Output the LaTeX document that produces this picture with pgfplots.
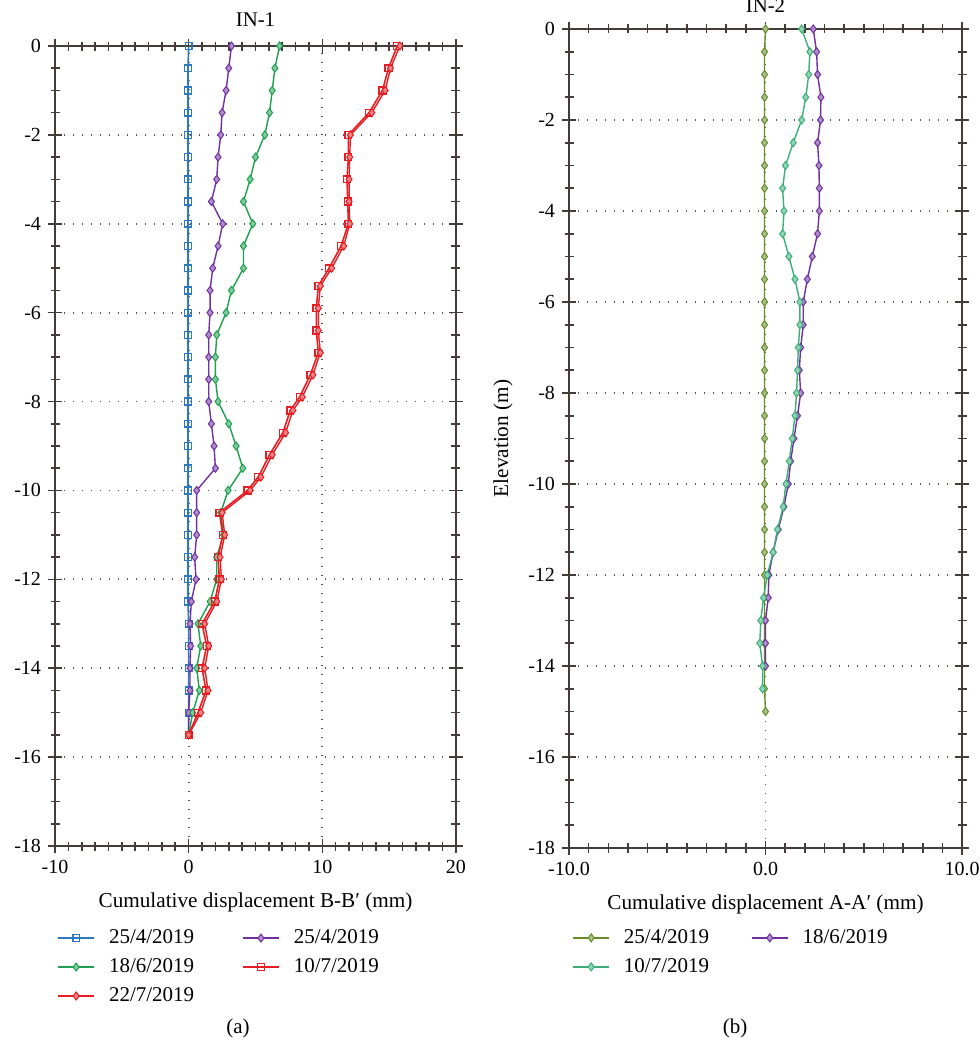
\documentclass[border=0pt]{standalone}
\usepackage{fontspec}
\setmainfont{Liberation Serif}
\usepackage{pgfplots}
\pgfplotsset{compat=1.18}

\definecolor{axisgray}{RGB}{70,60,55}
\definecolor{gridgray}{RGB}{90,80,75}
\definecolor{blueS}{RGB}{45,120,195}
\definecolor{purpleS}{RGB}{112,48,160}
\definecolor{greenS}{RGB}{30,160,80}
\definecolor{redS}{RGB}{230,30,35}
\definecolor{oliveS}{RGB}{100,140,40}
\definecolor{tealS}{RGB}{60,175,120}

\pgfplotsset{
  inclino/.style={
    scale only axis,
    tick align=center,
    axis line style={draw=axisgray, line width=0.9pt},
    major tick length=7pt, minor tick length=4.5pt,
    tick style={draw=axisgray, line width=0.8pt},
    ymin=-18, ymax=0, ytick={-18,-16,...,0}, minor y tick num=3,
    minor x tick num=9,
    grid=major,
    grid style={draw=gridgray, line width=0.9pt, dash pattern=on 0.6pt off 3.9pt},
    tick label style={font=\fontsize{10}{12}\selectfont},
    /pgf/number format/assume math mode=true,
    label style={font=\fontsize{10.6}{12.6}\selectfont},
    title style={font=\fontsize{10.4}{12.4}\selectfont, at={(0.5,1)}, anchor=base},
    xlabel style={at={(axis description cs:0.5,0)}, anchor=center, yshift=-28pt},
    legend cell align=left,
    legend columns=2,
    legend style={draw=none, fill=none, inner sep=0pt,
      font=\fontsize{10.5}{12.6}\selectfont,
      row sep=2pt,
      /tikz/every odd column/.append style={column sep=5pt}},
    legend image code/.code={\draw[mark repeat=2,mark phase=2]
      plot coordinates {(0pt,0pt) (9pt,0pt) (18pt,0pt)};},
  },
  sq/.style={color=#1, line width=0.8pt, mark=square, mark size=1.7pt, mark options={solid, line width=0.7pt}},
  dm/.style={color=#1, line width=0.7pt, mark=diamond*, mark size=2pt, mark options={solid, fill=#1!55!white, line width=0.5pt}},
}

\begin{document}
\begin{tikzpicture}
\useasboundingbox (0,0) rectangle (490pt,523pt);

% ---------- (a) IN-1 ----------
\begin{axis}[inclino,
  name=a,
  at={(27.5pt,100pt)}, anchor=south west,
  width=200.5pt, height=400pt,
  xmin=-10, xmax=20, xtick={-10,0,10,20},
  title={IN-1}, title style={yshift=4pt},
  xlabel={Cumulative displacement B-B′ (mm)},
  legend style={at={(axis description cs:0.005,-0.099)}, anchor=north west,
    /tikz/every even column/.append style={column sep=22pt}},
]
\addplot[sq=blueS] coordinates {
 (0,0) (-0.05,-0.5) (-0.05,-1) (-0.05,-1.5) (-0.05,-2) (-0.05,-2.5) (-0.05,-3) (-0.05,-3.5)
 (-0.05,-4) (-0.05,-4.5) (-0.05,-5) (-0.05,-5.5) (-0.05,-6) (-0.05,-6.5) (-0.05,-7) (-0.05,-7.5)
 (-0.05,-8) (-0.05,-8.5) (-0.05,-9) (-0.05,-9.5) (-0.05,-10) (-0.05,-10.5) (-0.05,-11) (-0.05,-11.5)
 (-0.05,-12) (-0.05,-12.5) (0,-13) (0,-13.5) (0,-14) (0,-14.5) (0,-15) (0,-15.5)};
\addlegendentry{25/4/2019}
\addplot[dm=purpleS] coordinates {
 (3.2,0) (3.0,-0.5) (2.8,-1) (2.5,-1.5) (2.4,-2) (2.2,-2.5) (2.1,-3) (1.7,-3.5)
 (2.55,-4) (2.2,-4.5) (1.8,-5) (1.6,-5.5) (1.6,-6) (1.5,-6.5) (1.5,-7) (1.5,-7.5)
 (1.5,-8) (1.7,-8.5) (1.9,-9) (2.0,-9.5) (0.6,-10) (0.6,-10.5) (0.6,-11) (0.45,-11.5)
 (0.55,-12) (0.2,-12.5) (0.1,-13) (0.15,-13.5) (0.1,-14) (0.1,-14.5) (0,-15) (0,-15.5)};
\addlegendentry{25/4/2019}
\addplot[dm=greenS] coordinates {
 (6.8,0) (6.45,-0.5) (6.25,-1) (6.05,-1.5) (5.7,-2) (5.0,-2.5) (4.6,-3) (4.1,-3.5)
 (4.8,-4) (4.1,-4.5) (4.1,-5) (3.2,-5.5) (2.8,-6) (2.1,-6.5) (2.0,-7) (2.0,-7.5)
 (2.2,-8) (3.0,-8.5) (3.55,-9) (4.05,-9.5) (2.95,-10) (2.4,-10.5) (2.6,-11) (2.1,-11.5)
 (2.1,-12) (1.6,-12.5) (0.7,-13) (0.9,-13.5) (0.6,-14) (0.8,-14.5) (0.3,-15) (0,-15.5)};
\addlegendentry{18/6/2019}
\addplot[sq=redS] coordinates {
 (15.6,0) (14.95,-0.5) (14.5,-1) (13.5,-1.5) (11.95,-2) (11.95,-2.5) (11.85,-3) (11.9,-3.5)
 (11.95,-4) (11.4,-4.5) (10.5,-5) (9.7,-5.4) (9.55,-5.9) (9.55,-6.4) (9.7,-6.9) (9.1,-7.4)
 (8.3,-7.9) (7.6,-8.2) (7.05,-8.7) (6.05,-9.2) (5.2,-9.7) (4.4,-10) (2.3,-10.5) (2.55,-11)
 (2.2,-11.5) (2.3,-12) (1.95,-12.5) (1.0,-13) (1.35,-13.5) (1.0,-14) (1.3,-14.5) (0.7,-15) (0,-15.5)};
\addlegendentry{10/7/2019}
\addplot[dm=redS] coordinates {
 (15.8,0) (15.1,-0.5) (14.7,-1) (13.7,-1.5) (12.1,-2) (12.05,-2.5) (12.0,-3) (12.0,-3.5)
 (12.05,-4) (11.6,-4.5) (10.7,-5) (9.85,-5.4) (9.7,-5.9) (9.7,-6.4) (9.85,-6.9) (9.3,-7.4)
 (8.5,-7.9) (7.8,-8.2) (7.25,-8.7) (6.25,-9.2) (5.4,-9.7) (4.6,-10) (2.5,-10.5) (2.7,-11)
 (2.35,-11.5) (2.45,-12) (2.1,-12.5) (1.2,-13) (1.5,-13.5) (1.2,-14) (1.45,-14.5) (0.9,-15) (0,-15.5)};
\addlegendentry{22/7/2019}
\end{axis}

% ---------- (b) IN-2 ----------
\begin{axis}[inclino,
  name=b,
  at={(284.5pt,99pt)}, anchor=south west,
  width=196.5pt, height=409.5pt,
  xmin=-10, xmax=10, xtick={-10,0,10}, xticklabels={-10.0,0.0,10.0},
  title={IN-2}, title style={yshift=2pt},
  xlabel={Cumulative displacement A-A′ (mm)},
  ylabel={Elevation (m)},
  ylabel style={at={(axis description cs:-0.168,0.5)}, anchor=center},
  legend style={at={(axis description cs:0.008,-0.094)}, anchor=north west,
    /tikz/every even column/.append style={column sep=19pt}},
]
\addplot[dm=oliveS] coordinates {
 (0,0) (-0.05,-0.5) (-0.05,-1) (-0.05,-1.5) (-0.05,-2) (-0.05,-2.5) (-0.05,-3) (-0.05,-3.5)
 (-0.05,-4) (-0.05,-4.5) (-0.05,-5) (-0.05,-5.5) (-0.05,-6) (-0.05,-6.5) (-0.05,-7) (-0.05,-7.5)
 (-0.05,-8) (-0.05,-8.5) (-0.05,-9) (-0.05,-9.5) (-0.05,-10) (-0.05,-10.5) (-0.05,-11) (-0.05,-11.5)
 (-0.05,-12) (-0.05,-12.5) (-0.05,-13) (-0.05,-13.5) (-0.05,-14) (-0.05,-14.5) (0,-15)};
\addlegendentry{25/4/2019}
\addplot[dm=purpleS] coordinates {
 (2.43,0) (2.6,-0.5) (2.65,-1) (2.82,-1.5) (2.8,-2) (2.65,-2.5) (2.72,-3) (2.74,-3.5)
 (2.74,-4) (2.65,-4.5) (2.38,-5) (2.13,-5.5) (1.92,-6) (1.92,-6.5) (1.79,-7) (1.72,-7.5)
 (1.79,-8) (1.63,-8.5) (1.45,-9) (1.28,-9.5) (1.16,-10) (0.94,-10.5) (0.65,-11) (0.39,-11.5)
 (0.17,-12) (0.14,-12.5) (0.0,-13) (0.0,-13.5) (0.0,-14)};
\addlegendentry{18/6/2019}
\addplot[dm=tealS] coordinates {
 (1.84,0) (2.26,-0.5) (2.2,-1) (2.05,-1.5) (1.84,-2) (1.41,-2.5) (1.02,-3) (0.87,-3.5)
 (0.94,-4) (0.87,-4.5) (1.19,-5) (1.5,-5.5) (1.75,-6) (1.75,-6.5) (1.67,-7) (1.63,-7.5)
 (1.58,-8) (1.5,-8.5) (1.36,-9) (1.21,-9.5) (1.04,-10) (0.9,-10.5) (0.61,-11) (0.39,-11.5)
 (0.09,-12) (-0.1,-12.5) (-0.24,-13) (-0.29,-13.5) (-0.15,-14) (-0.15,-14.5)};
\addlegendentry{10/7/2019}
\end{axis}

\node[font=\fontsize{10.5}{12.6}\selectfont] at (119pt,9pt) {(a)};
\node[font=\fontsize{10.5}{12.6}\selectfont] at (367.5pt,9pt) {(b)};
\end{tikzpicture}
\end{document}
